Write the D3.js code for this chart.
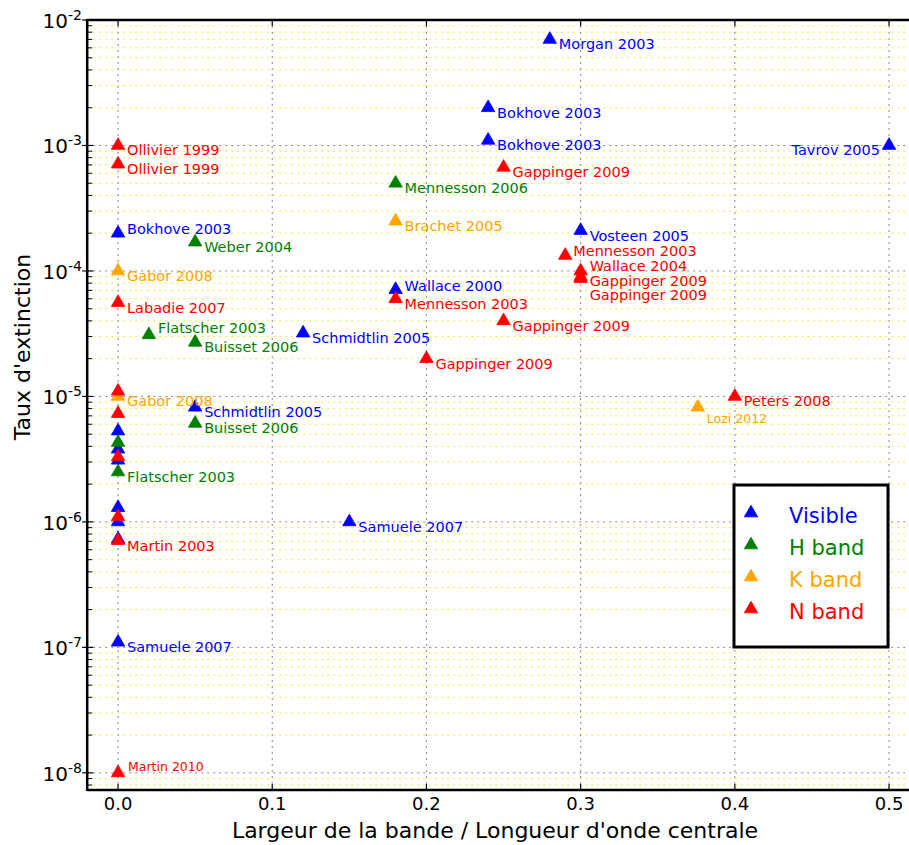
<!DOCTYPE html>
<html><head><meta charset="utf-8">
<script src="https://cdn.jsdelivr.net/npm/d3@7"></script>
<style>body{margin:0;background:#fff}svg{display:block}text{font-family:"DejaVu Sans",Verdana,sans-serif}</style>
</head><body><svg id="c" width="909" height="845"></svg>
<script>
// ---------- data ----------
const seriesNames = ["Visible", "H band", "K band", "N band"];

const visibleX = [0.28, 0.24, 0.24, 0.5, 0, 0.3, 0.18, 0.12, 0.05, 0.15, 0, 0, 0, 0, 0, 0, 0];
const visibleY = [7e-3, 2e-3, 1.1e-3, 1e-3, 2e-4, 2.1e-4, 7.1e-5, 3.2e-5, 8.2e-6, 1e-6, 1.1e-7, 5.3e-6, 3.8e-6, 3.1e-6, 1.3e-6, 1e-6, 7.3e-7];
const visibleLabels = ["Morgan 2003", "Bokhove 2003", "Bokhove 2003", "Tavrov 2005", "Bokhove 2003", "Vosteen 2005", "Wallace 2000", "Schmidtlin 2005", "Schmidtlin 2005", "Samuele 2007", "Samuele 2007", "", "", "", "", "", ""];

const hX = [0.18, 0.05, 0.02, 0.05, 0.05, 0, 0];
const hY = [5e-4, 1.7e-4, 3.1e-5, 2.7e-5, 6.1e-6, 4.3e-6, 2.5e-6];
const hLabels = ["Mennesson 2006", "Weber 2004", "Flatscher 2003", "Buisset 2006", "Buisset 2006", "", "Flatscher 2003"];

const kX = [0.18, 0, 0, 0.376];
const kY = [2.5e-4, 1e-4, 1e-5, 8.2e-6];
const kLabels = ["Brachet 2005", "Gabor 2008", "Gabor 2008", "Lozi 2012"];

const nX = [0, 0, 0.25, 0.29, 0.3, 0.3, 0.3, 0.18, 0, 0.25, 0.2, 0.4, 0, 0, 0, 0, 0, 0];
const nY = [1e-3, 7.1e-4, 6.7e-4, 1.33e-4, 1e-4, 9e-5, 8.7e-5, 6e-5, 5.6e-5, 4e-5, 2e-5, 1e-5, 1.1e-5, 7.3e-6, 3.3e-6, 1.1e-6, 7.1e-7, 1e-8];
const nLabels = ["Ollivier 1999", "Ollivier 1999", "Gappinger 2009", "Mennesson 2003", "Wallace 2004", "Gappinger 2009", "Gappinger 2009", "Mennesson 2003", "Labadie 2007", "Gappinger 2009", "Gappinger 2009", "Peters 2008", "", "", "", "", "Martin 2003", "Martin 2010"];

const xTicks = [0.0, 0.1, 0.2, 0.3, 0.4, 0.5];
const yTickExps = [-2, -3, -4, -5, -6, -7, -8];
const xTitle = "Largeur de la bande / Longueur d'onde centrale";
const yTitle = "Taux d'extinction";

// ---------- styling / layout ----------
const colors = ["#0000ff", "#008000", "#ffa500", "#ff0000"];
const seriesData = [
  {x: visibleX, y: visibleY, l: visibleLabels},
  {x: hX, y: hY, l: hLabels},
  {x: kX, y: kY, l: kLabels},
  {x: nX, y: nY, l: nLabels}
];
// label placement adjustments (series index - point index -> tweak)
const tweaks = {
  "0-3": {dx: -9, dy: 10, anchor: "end"},
  "0-4": {dy: 0.5},
  "0-6": {dy: 1.3},
  "1-2": {dy: -1.7},
  "3-3": {dx: 8, dy: 0.8},
  "3-4": {dy: -0.3},
  "3-5": {dy: 9.3},
  "3-6": {dy: 21.8},
  "2-3": {dy: 16, size: 12.5},
  "3-17": {dx: 10, dy: -1.5, size: 12.5}
};

const svg = d3.select("#c");
const L = 87.2, T = 20, B = 790;
const x = d3.scaleLinear().domain([-0.02, 0.52]).range([L, 87.2 + 0.54 * 1542]);
const y = d3.scaleLog().domain([7.3e-9, 1e-2]).range([B, T]);
const R = x(0.52);

svg.append("defs").append("clipPath").attr("id", "pc")
  .append("rect").attr("x", L).attr("y", T).attr("width", R - L).attr("height", B - T);

const grid = svg.append("g").attr("clip-path", "url(#pc)");
// minor y grid
const minors = [];
for (let e = -9; e <= -3; e++) for (let m = 2; m <= 9; m++) {
  const v = m * Math.pow(10, e);
  if (v > y.domain()[0] && v < y.domain()[1]) minors.push(v);
}
grid.selectAll("line.ymin").data(minors).join("line")
  .attr("x1", L).attr("x2", R).attr("y1", d => y(d)).attr("y2", d => y(d))
  .attr("stroke", "#eded3a").attr("stroke-width", 1).attr("stroke-dasharray", "2,4");
// major grids
grid.selectAll("line.ymaj").data(yTickExps.map(e => Math.pow(10, e))).join("line")
  .attr("x1", L).attr("x2", R).attr("y1", d => y(d)).attr("y2", d => y(d))
  .attr("stroke", "#888").attr("stroke-width", 1).attr("stroke-dasharray", "2,4");
grid.selectAll("line.xmaj").data(xTicks).join("line")
  .attr("x1", d => x(d)).attr("x2", d => x(d)).attr("y1", T).attr("y2", B)
  .attr("stroke", "#888").attr("stroke-width", 1).attr("stroke-dasharray", "2,4");

// spines
const ax = svg.append("g").attr("stroke", "#000");
ax.append("line").attr("x1", L).attr("x2", L).attr("y1", T - 1).attr("y2", B + 1).attr("stroke-width", 2.5);
ax.append("line").attr("x1", L).attr("x2", 909).attr("y1", T).attr("y2", T).attr("stroke-width", 2.5);
ax.append("line").attr("x1", L).attr("x2", 909).attr("y1", B).attr("y2", B).attr("stroke-width", 2.5);
// ticks
ax.selectAll("line.ytm").data(minors).join("line")
  .attr("x1", L).attr("x2", L + 5).attr("y1", d => y(d)).attr("y2", d => y(d)).attr("stroke-width", 1);
ax.selectAll("line.ytM").data(yTickExps).join("line")
  .attr("x1", L - 5).attr("x2", L + 6).attr("y1", d => y(Math.pow(10, d))).attr("y2", d => y(Math.pow(10, d))).attr("stroke-width", 1.2);
ax.selectAll("line.xtb").data(xTicks).join("line")
  .attr("x1", d => x(d)).attr("x2", d => x(d)).attr("y1", B).attr("y2", B - 6).attr("stroke-width", 1.2);
ax.selectAll("line.xtt").data(xTicks).join("line")
  .attr("x1", d => x(d)).attr("x2", d => x(d)).attr("y1", T).attr("y2", T + 6).attr("stroke-width", 1.2);

// tick labels
svg.selectAll("text.xt").data(xTicks).join("text")
  .attr("x", d => x(d)).attr("y", 810).attr("text-anchor", "middle")
  .attr("font-size", 18).attr("fill", "#000").text(d3.format(".1f"));
const yl = svg.selectAll("text.yt").data(yTickExps).join("text")
  .attr("x", 82).attr("y", d => y(Math.pow(10, d)) + 8).attr("text-anchor", "end")
  .attr("font-size", 20).attr("fill", "#000");
yl.append("tspan").text("10");
yl.append("tspan").attr("dy", -8).attr("font-size", 14).text(d => "-" + Math.abs(d));

// titles
svg.append("text").attr("x", 495).attr("y", 838).attr("text-anchor", "middle")
  .attr("font-size", 22).attr("fill", "#000").text(xTitle);
svg.append("text").attr("transform", "translate(29.5,347) rotate(-90)").attr("text-anchor", "middle")
  .attr("font-size", 22).attr("fill", "#000").text(yTitle);

// points
const tri = d3.symbol().type(d3.symbolTriangle).size(78);
const pts = svg.append("g");
const labs = svg.append("g");
seriesData.forEach((s, si) => {
  const rows = s.x.map((v, i) => ({x: v, y: s.y[i], l: s.l[i], i}));
  pts.selectAll(null).data(rows).join("path")
    .attr("d", tri).attr("transform", d => `translate(${x(d.x)},${y(d.y)})`)
    .attr("fill", colors[si]).attr("stroke", colors[si]).attr("stroke-width", 0.8);
  labs.selectAll(null).data(rows.filter(d => d.l)).join("text")
    .each(function (d) {
      const t = tweaks[si + "-" + d.i] || {};
      d3.select(this)
        .attr("x", x(d.x) + (t.dx !== undefined ? t.dx : 9))
        .attr("y", y(d.y) + (t.dy !== undefined ? t.dy : 10))
        .attr("text-anchor", t.anchor || "start")
        .attr("font-size", t.size || 14.5);
    })
    .attr("fill", colors[si]).text(d => d.l);
});

// legend
const lg = svg.append("g");
lg.append("rect").attr("x", 734).attr("y", 485).attr("width", 154).attr("height", 162)
  .attr("fill", "#fff").attr("stroke", "#000").attr("stroke-width", 3);
seriesNames.forEach((n, i) => {
  lg.append("path").attr("d", tri).attr("transform", `translate(751,${513 + i * 32})`)
    .attr("fill", colors[i]).attr("stroke", colors[i]).attr("stroke-width", 0.8);
  lg.append("text").attr("x", 789).attr("y", 522.5 + i * 32).attr("font-size", 21)
    .attr("fill", colors[i]).text(n);
});
</script></body></html>
